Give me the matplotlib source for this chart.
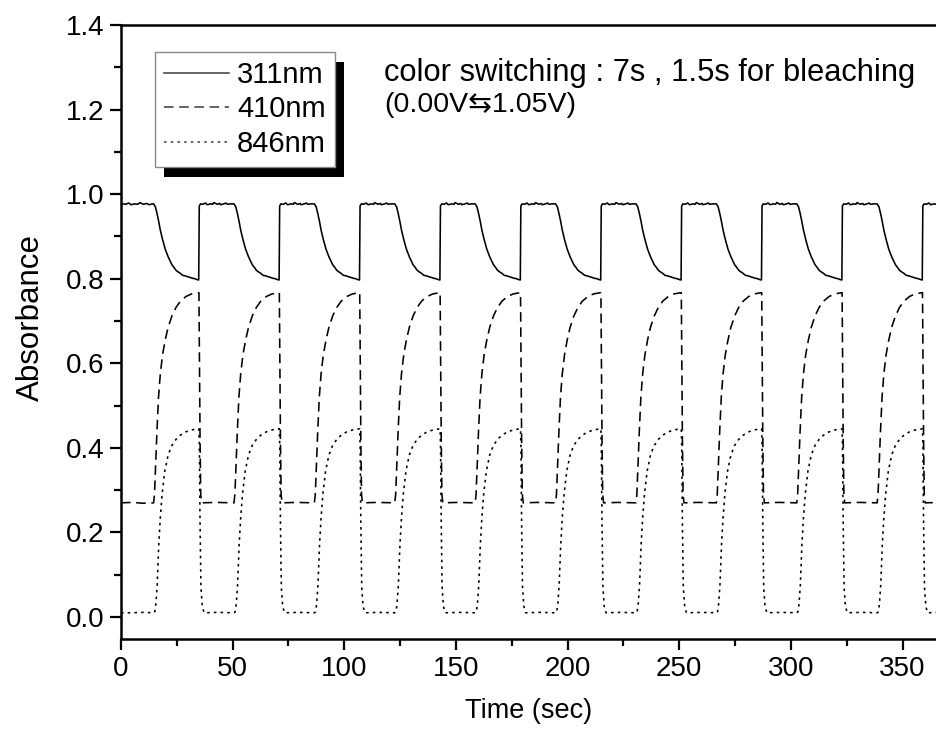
import matplotlib
matplotlib.use("Agg")
import matplotlib.pyplot as plt
import numpy as np
from matplotlib.patches import Rectangle
from matplotlib.transforms import IdentityTransform
from matplotlib.ticker import MultipleLocator

plt.rcParams['font.family'] = ['Liberation Sans', 'DejaVu Sans']

# ---------------- data ----------------
labels = ["311nm", "410nm", "846nm"]
# start time (s) of each colouring step; each cycle lasts ~36 s
cycle_starts = [14.6, 50.6, 86.6, 122.6, 158.6, 194.6, 230.6, 266.6, 302.6, 338.6]

# lead-in before the first colouring step
lead_t_311 = [0.9, 2.0, 3.5, 4.5, 6.0, 7.5, 8.5, 10.0, 11.5, 12.5, 14.0]
lead_v_311 = [0.977, 0.976, 0.979, 0.975, 0.977, 0.976, 0.980, 0.976, 0.978, 0.975, 0.977]
lead_t_410 = [0.0, 5.0, 10.0, 14.0]
lead_v_410 = [0.270, 0.271, 0.269, 0.270]
lead_t_846 = [0.0, 5.0, 10.0, 14.0]
lead_v_846 = [0.010, 0.010, 0.011, 0.010]

# one cycle (offset in s from the start of colouring) for each wavelength
off_311 = [0, 0.8, 1.5, 2.3, 3.0, 4.0, 5.2, 6.5, 7.3, 8.2, 9.1, 10.0, 11.0, 11.9, 13.0,
           14.0, 15.2, 16.4, 17.5, 18.5, 19.4, 20.2, 20.45, 21.0, 22.0, 23.2, 24.0,
           25.5, 26.5, 27.0, 28.5, 29.6, 30.0, 31.5, 32.4, 33.0, 34.5, 35.6]
val_311 = [0.977, 0.970, 0.955, 0.935, 0.915, 0.893, 0.870, 0.852, 0.843, 0.833, 0.827,
           0.820, 0.816, 0.813, 0.808, 0.807, 0.805, 0.803, 0.801, 0.800, 0.798, 0.797,
           0.972, 0.977, 0.976, 0.979, 0.975, 0.977, 0.976, 0.980, 0.976, 0.978, 0.975,
           0.977, 0.979, 0.976, 0.977, 0.977]

off_410 = [0, 0.4, 0.9, 1.5, 2.2, 3.0, 4.0, 5.2, 6.5, 8.2, 10.0, 12.0, 14.5, 17.0,
           19.0, 20.3, 20.5, 20.8, 21.1, 21.5, 28.0, 35.6]
val_410 = [0.270, 0.290, 0.360, 0.440, 0.520, 0.575, 0.620, 0.655, 0.685, 0.712,
           0.732, 0.747, 0.758, 0.764, 0.766, 0.767, 0.620, 0.420, 0.290, 0.270,
           0.271, 0.270]

off_846 = [0, 0.5, 1.0, 1.6, 2.3, 3.0, 3.8, 5.0, 6.5, 8.1, 10.0, 12.0, 14.5, 17.5,
           20.3, 20.5, 20.8, 21.2, 21.8, 22.6, 29.0, 35.6]
val_846 = [0.010, 0.012, 0.030, 0.075, 0.170, 0.235, 0.290, 0.345, 0.383, 0.405,
           0.420, 0.430, 0.438, 0.443, 0.445, 0.400, 0.220, 0.070, 0.025, 0.010,
           0.011, 0.010]

x_ticks = [0, 50, 100, 150, 200, 250, 300, 350]
y_ticks = [0.0, 0.2, 0.4, 0.6, 0.8, 1.0, 1.2, 1.4]


def build(lead_t, lead_v, offs, vals):
    t = list(lead_t)
    v = list(lead_v)
    for s in cycle_starts:
        t.extend(s + o for o in offs)
        v.extend(vals)
    return np.array(t), np.array(v)


t311, y311 = build(lead_t_311, lead_v_311, off_311, val_311)
t410, y410 = build(lead_t_410, lead_v_410, off_410, val_410)
t846, y846 = build(lead_t_846, lead_v_846, off_846, val_846)

# ---------------- figure ----------------
W, H = 937, 734
fig = plt.figure(figsize=(W / 100, H / 100), dpi=100)
L, R, T, B = 121, 937, 25, 639
ax = fig.add_axes([L / W, 1 - B / H, (R - L) / W, (B - T) / H])

lw = 1.15
l1, = ax.plot(t311, y311, color='black', lw=lw, ls='-')
l2, = ax.plot(t410, y410, color='black', lw=lw, ls=(0, (6, 3.5)))
l3, = ax.plot(t846, y846, color='black', lw=lw, ls=(0, (1.6, 2.6)))

ax.set_xlim(0, 365.4)
ax.set_ylim(-0.052, 1.4)
ax.set_xticks(x_ticks)
ax.set_yticks(y_ticks)
ax.set_yticklabels([f"{v:.1f}" for v in y_ticks])
ax.xaxis.set_minor_locator(MultipleLocator(25))
ax.yaxis.set_minor_locator(MultipleLocator(0.1))
ax.tick_params(which='major', direction='out', length=8, width=1.6, labelsize=20, pad=4)
ax.tick_params(which='minor', direction='out', length=5, width=1.6)
ax.tick_params(top=False, right=False, which='both')
for s in ['left', 'bottom', 'top']:
    ax.spines[s].set_linewidth(1.8)
ax.spines['right'].set_visible(False)

ax.set_ylabel("Absorbance", fontsize=22.5)
ax.yaxis.set_label_coords(-0.092, 0.523)
ax.set_xlabel("Time (sec)", fontsize=19.5, labelpad=12)

# legend with a solid offset shadow
leg = ax.legend([l1, l2, l3], labels, loc='upper left',
                bbox_to_anchor=(155 / W, 1 - 52 / H), bbox_transform=fig.transFigure,
                fontsize=21, handlelength=2.23, handletextpad=0.27, labelspacing=0.22,
                borderpad=0.31, borderaxespad=0, frameon=True, fancybox=False,
                edgecolor='#888888', framealpha=1)
leg.get_frame().set_linewidth(1.0)
for h in leg.get_lines():
    h.set_color('#444444')
leg.set_zorder(5)
fig.canvas.draw()
bb = leg.get_window_extent()
shadow = Rectangle((bb.x0 + 9, bb.y0 - 10), bb.width, bb.height,
                   transform=IdentityTransform(), facecolor='black',
                   edgecolor='none', zorder=4, clip_on=False)
ax.add_patch(shadow)

fig.text(384 / W, 1 - 73 / H, "color switching : 7s , 1.5s for bleaching",
         fontsize=22.2, va='center', ha='left')
fig.text(384 / W, 1 - 105 / H, "(0.00V\u21c61.05V)",
         fontsize=20.5, va='center', ha='left',
         family=['Liberation Sans', 'DejaVu Sans'])

fig.savefig("out.png", dpi=100)
